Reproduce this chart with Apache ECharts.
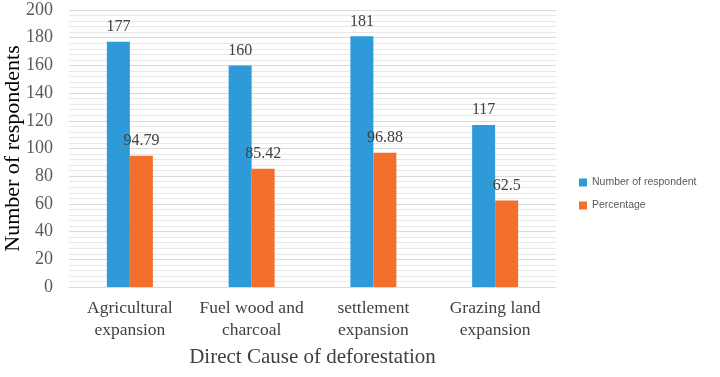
<!DOCTYPE html>
<html>
<head>
<meta charset="utf-8">
<script src="https://cdn.jsdelivr.net/npm/echarts@6/dist/echarts.min.js"></script>
<style>html,body{margin:0;padding:0;background:#fff}#c{width:720px;height:377px}</style>
</head>
<body>
<div id="c"></div>
<script>
var categories = ["Agricultural\nexpansion", "Fuel wood and\ncharcoal", "settlement\nexpansion", "Grazing land\nexpansion"];
var respondents = [177, 160, 181, 117];
var percentage = [94.79, 85.42, 96.88, 62.5];
var seriesNames = ["Number of respondent", "Percentage"];

var chart = echarts.init(document.getElementById('c'), null, {renderer: 'canvas'});
var serif = '"Liberation Serif", "Times New Roman", serif';
var labelStyle = {show: true, position: 'top', distance: 7, fontFamily: serif, fontSize: 16, color: '#404040'};
chart.setOption({
  animation: false,
  backgroundColor: '#fff',
  grid: {left: 69, right: 164, top: 10, bottom: 90, containLabel: false, outerBoundsMode: 'none'},
  legend: {
    orient: 'vertical', left: 574, top: 172, itemGap: 12,
    itemWidth: 8, itemHeight: 8, icon: 'rect',
    textStyle: {fontFamily: '"Liberation Sans", Arial, sans-serif', fontSize: 10.5, color: '#595959'},
    data: seriesNames
  },
  xAxis: {
    type: 'category', data: categories,
    name: 'Direct Cause of deforestation', nameLocation: 'middle', nameGap: 60,
    nameTextStyle: {fontFamily: serif, fontSize: 21, color: '#404040'},
    axisLine: {show: true, lineStyle: {color: '#d9d9d9'}},
    axisTick: {show: false},
    axisLabel: {fontFamily: serif, fontSize: 17.5, color: '#404040', margin: 10, lineHeight: 22, interval: 0}
  },
  yAxis: {
    type: 'value', min: 0, max: 200, interval: 20,
    name: 'Number of respondents', nameLocation: 'middle', nameGap: 45, nameMoveOverlap: false,
    nameTextStyle: {fontFamily: serif, fontSize: 22, color: '#000'},
    axisLine: {show: false}, axisTick: {show: false},
    axisLabel: {fontFamily: serif, fontSize: 18, color: '#595959', margin: 16},
    splitLine: {show: true, lineStyle: {color: '#d9d9d9', width: 1}},
    minorTick: {show: false, splitNumber: 5},
    minorSplitLine: {show: true, lineStyle: {color: '#e8e8e8', width: 1}}
  },
  series: [
    {name: seriesNames[0], type: 'bar', data: respondents, barWidth: 23, barGap: '0%',
     itemStyle: {color: '#2e9bd8'}, label: labelStyle},
    {name: seriesNames[1], type: 'bar', data: percentage, barWidth: 23,
     itemStyle: {color: '#f36f2c'}, label: labelStyle}
  ]
});
</script>
</body>
</html>
